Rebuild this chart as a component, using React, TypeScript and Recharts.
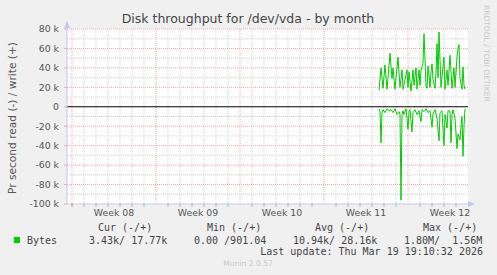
import React from 'react';
import { LineChart, Line, XAxis, YAxis, CartesianGrid, ReferenceLine, ReferenceDot } from 'recharts';

// time axis: hours since the start of Week 08
const weekLabels = ['Week 08', 'Week 09', 'Week 10', 'Week 11', 'Week 12'];
const weekStartHours = [0, 168, 336, 504, 672];
const weekLabelHours = [84, 252, 420, 588, 756];
const dayHours = [24, 48, 72, 96, 120, 144, 192, 216, 240, 264, 288, 312, 360, 384, 408, 432, 456, 480, 528, 552, 576, 600, 624, 648, 696, 720, 744, 768];
const yMajor = [80000, 60000, 40000, 20000, -20000, -40000, -60000, -80000];
const yMinor = [70000, 50000, 30000, 10000, -10000, -30000, -50000, -70000, -90000];
const yTicks = [80000, 60000, 40000, 20000, 0, -20000, -40000, -60000, -80000, -100000];

// write (+) bytes per second, in k
const writeHours = [614, 618, 622, 626, 630, 632, 636, 640, 642, 646, 648, 652, 656, 660, 662, 666, 670, 672, 674, 678, 682, 684, 688, 690, 694, 696, 698, 702, 704, 708, 710, 712, 716, 718, 720, 722, 726, 728, 730, 732, 734, 738, 742, 744, 746, 750, 752, 756, 760, 764, 766, 770, 772, 774, 776, 780, 782, 784, 786];
const writeK = [17, 40, 19, 43, 18, 30, 55, 29, 40, 18, 30, 51, 20, 38, 18, 28, 38, 20, 36, 16, 38, 22, 40, 18, 38, 22, 37, 45, 75, 22, 19, 42, 20, 36, 44, 28, 19, 35, 65, 30, 77, 20, 42, 51, 18, 38, 22, 53, 19, 40, 20, 51, 60, 64, 30, 18, 41, 22, 18];

// read (-) bytes per second, in k
const readHours = [614, 616, 618, 620, 622, 626, 630, 634, 638, 642, 646, 650, 654, 656, 658, 660, 662, 664, 668, 670, 672, 674, 676, 680, 682, 686, 690, 694, 698, 700, 704, 708, 712, 716, 720, 722, 726, 730, 734, 736, 740, 744, 746, 750, 752, 756, 758, 760, 762, 766, 770, 772, 776, 778, 780, 782, 784, 786];
const readK = [-2, -5, -37, -6, -3, -6, -2, -4, -3, -6, -2, -8, -5, -8, -96, -8, -4, -8, -2, -12, -23, -5, -3, -26, -6, -3, -8, -4, -15, -3, -5, -2, -6, -4, -21, -7, -3, -12, -35, -6, -4, -40, -8, -22, -4, -5, -37, -8, -3, -12, -43, -28, -34, -20, -10, -51, -20, -2];

const legendHeaders = ['Cur (-/+)', 'Min (-/+)', 'Avg (-/+)', 'Max (-/+)'];
const legendValues = ['3.43k/ 17.77k', '0.00 /901.04', '10.94k/ 28.16k', '1.80M/  1.56M'];
const seriesName = 'Bytes';
const lastUpdate = 'Last update: Thu Mar 19 19:10:32 2026';

const writeData = writeHours.map((h, i) => ({ h, v: writeK[i] * 1000 }));
const readData = readHours.map((h, i) => ({ h, v: readK[i] * 1000 }));

const GREEN = '#00cc00';
const AXIS = '#c4c8f4';
const MAJ = '#f0a8a8';
const MIN = '#d4d4d4';
const SANS = 'DejaVu Sans';
const MONO = 'DejaVu Sans Mono';

const xTicks = [0, ...dayHours, ...weekLabelHours].sort((a, b) => a - b);

const fmtY = (v: number) => (v === 0 ? '0' : `${v / 1000} k`);

const XTick = (props: any) => {
  const { x, y, payload } = props;
  const v = payload.value;
  const li = weekLabelHours.indexOf(v);
  if (li >= 0) {
    return (
      <text x={x} y={y + 12} textAnchor="middle" fontFamily={SANS} fontSize={9.33} fill="#555" stroke="none">
        {weekLabels[li]}
      </text>
    );
  }
  const major = weekStartHours.indexOf(v) >= 0;
  return <line x1={x} x2={x} y1={y - 1} y2={y + 3} stroke={major ? '#e87878' : '#bdbdbd'} strokeWidth={1} />;
};

const YTick = (props: any) => {
  const { x, y, payload } = props;
  return (
    <text x={x} y={y} dy="0.36em" textAnchor="end" fontFamily={SANS} fontSize={9.33} fill="#555" stroke="none">
      {fmtY(payload.value)}
    </text>
  );
};

const UpArrow = (p: any) => (
  <g>
    <line x1={p.cx} x2={p.cx} y1={p.cy} y2={p.cy - 4} stroke={AXIS} />
    <path d={`M${p.cx - 3},${p.cy - 1} L${p.cx + 3},${p.cy - 1} L${p.cx},${p.cy - 8} Z`} fill={AXIS} />
  </g>
);
const RightArrow = (p: any) => (
  <g>
    <path d={`M${p.cx},${p.cy - 3} L${p.cx},${p.cy + 3} L${p.cx + 7},${p.cy} Z`} fill={AXIS} />
  </g>
);

export default function App() {
  return (
    <div style={{ position: 'absolute', left: 0, top: 0, width: 497, height: 275, background: '#f0f0f0', overflow: 'hidden' }}>
      <LineChart width={497} height={275} margin={{ top: 29, right: 29, left: 0, bottom: 51 }}>
        <CartesianGrid fill="#ffffff" stroke={MIN} strokeDasharray="1 1" horizontalValues={yMinor} verticalValues={dayHours} />
        <CartesianGrid fill="none" stroke={MAJ} strokeDasharray="1 1" horizontalValues={yMajor} verticalValues={weekStartHours} />
        <XAxis
          dataKey="h"
          type="number"
          domain={[-10, 792]}
          allowDataOverflow
          ticks={xTicks}
          interval={0}
          tick={<XTick />}
          tickLine={false}
          tickSize={0}
          tickMargin={0}
          height={20}
          axisLine={{ stroke: AXIS }}
        />
        <YAxis
          type="number"
          domain={[-100000, 80000]}
          allowDataOverflow
          ticks={yTicks}
          interval={0}
          width={67}
          tickSize={3}
          tickMargin={5}
          tickLine={{ stroke: MAJ }}
          axisLine={{ stroke: AXIS }}
          tick={<YTick />}
        />
        <ReferenceLine y={0} stroke="#000" strokeWidth={1} />
        <Line data={writeData} dataKey="v" type="linear" stroke={GREEN} strokeWidth={1} dot={false} isAnimationActive={false} />
        <Line data={readData} dataKey="v" type="linear" stroke={GREEN} strokeWidth={1} dot={false} isAnimationActive={false} />
        <ReferenceDot x={-10} y={80000} ifOverflow="visible" shape={<UpArrow />} />
        <ReferenceDot x={792} y={-100000} ifOverflow="visible" shape={<RightArrow />} />
      </LineChart>
      <svg width={497} height={275} style={{ position: 'absolute', left: 0, top: 0, pointerEvents: 'none' }}>
        <text x={248} y={23} textAnchor="middle" fontFamily={SANS} fontSize={12.5} fill="#444">
          Disk throughput for /dev/vda - by month
        </text>
        <text transform="translate(16,118) rotate(-90)" textAnchor="middle" fontFamily={SANS} fontSize={10.6} fill="#555">
          Pr second read (-) / write (+)
        </text>
        <text transform="translate(484,5) rotate(90)" textAnchor="start" fontFamily={SANS} fontSize={7.5} fill="#c8c8c8">
          RRDTOOL / TOBI OETIKER
        </text>
        {legendHeaders.map((t, i) => (
          <text key={t} x={[98, 207, 315, 423][i]} y={231} fontFamily={MONO} fontSize={10} fill="#444" style={{ whiteSpace: 'pre' }}>
            {t}
          </text>
        ))}
        <rect x={14} y={237} width={6} height={6} fill={GREEN} />
        <text x={27} y={243.5} fontFamily={MONO} fontSize={10} fill="#444">{seriesName}</text>
        {legendValues.map((t, i) => (
          <text key={i} x={[89, 194, 293, 404][i]} y={243.5} fontFamily={MONO} fontSize={10} fill="#444" style={{ whiteSpace: 'pre' }}>
            {t}
          </text>
        ))}
        <text x={483} y={255} textAnchor="end" fontFamily={MONO} fontSize={10} fill="#444" style={{ whiteSpace: 'pre' }}>
          {lastUpdate}
        </text>
        <text x={248} y={266} textAnchor="middle" fontFamily={SANS} fontSize={7.6} fill="#c8c8c8">
          Munin 2.0.57
        </text>
      </svg>
    </div>
  );
}
